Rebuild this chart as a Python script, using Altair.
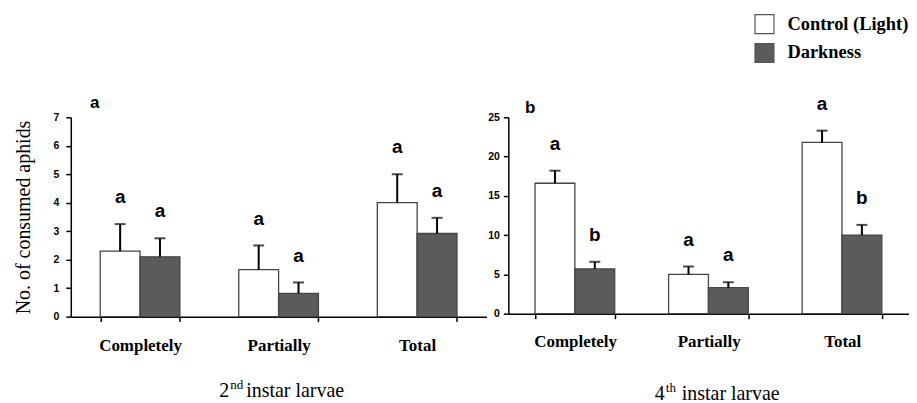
import altair as alt
import pandas as pd

categories = ["Completely", "Partially", "Total"]
treatments = ["Control (Light)", "Darkness"]

# Panel a: 2nd instar larvae
a_ctrl_mean = [2.3, 1.65, 4.0]
a_ctrl_upper = [3.25, 2.5, 5.0]
a_dark_mean = [2.1, 0.82, 2.92]
a_dark_upper = [2.75, 1.2, 3.47]
a_ctrl_letters = ["a", "a", "a"]
a_dark_letters = ["a", "a", "a"]
a_ticks = [0, 1, 2, 3, 4, 5, 6, 7]

# Panel b: 4th instar larvae
b_ctrl_mean = [16.6, 5.0, 21.8]
b_ctrl_upper = [18.2, 6.0, 23.3]
b_dark_mean = [5.7, 3.3, 10.0]
b_dark_upper = [6.6, 4.0, 11.3]
b_ctrl_letters = ["a", "a", "a"]
b_dark_letters = ["b", "a", "b"]
b_ticks = [0, 5, 10, 15, 20, 25]

SERIF = "Liberation Serif"
SANS = "Liberation Sans"
DARK = "#5b5b5b"


def make_df(cm, cu, cl, dm, du, dl):
    rows = []
    for i, c in enumerate(categories):
        rows.append({"category": c, "treatment": treatments[0], "mean": cm[i], "upper": cu[i], "letter": cl[i]})
        rows.append({"category": c, "treatment": treatments[1], "mean": dm[i], "upper": du[i], "letter": dl[i]})
    return pd.DataFrame(rows)


def text_layer(txt, x, y, size, weight="normal", font=SERIF, align="left", opacity=1.0):
    return alt.Chart(pd.DataFrame({"t": [txt]})).mark_text(
        font=font, fontSize=size, fontWeight=weight, align=align,
        baseline="alphabetic", color="black", opacity=opacity
    ).encode(x=alt.value(x), y=alt.value(y), text="t:N")


def legend_layers(opacity):
    layers = []
    fills = ["white", DARK]
    ys = [-93.5, -64.5]
    for i, t in enumerate(treatments):
        layers.append(
            alt.Chart(pd.DataFrame({"t": [t]})).mark_square(
                size=361, fill=fills[i], stroke="#555555", strokeWidth=1.2, opacity=opacity
            ).encode(x=alt.value(257), y=alt.value(ys[i]))
        )
        layers.append(text_layer(t, 280, ys[i] + 5.5, 18.5, "bold", SERIF, "left", opacity))
    return layers


def panel(df, ymax, ticks, width, height, pad_inner, ytitle, label_pad, x_label_pad,
          letter, letter_xy, t_main, t_sup, t_rest, t_x, t_y, legend_opacity):
    axis_kwargs = dict(
        values=ticks, grid=False, labelFont=SANS, labelFontWeight="bold",
        labelFontSize=10.5, labelColor="black", labelPadding=label_pad,
        tickSize=5, tickColor="black", tickWidth=1.5,
        domainColor="black", domainWidth=1.5,
    )
    if ytitle:
        axis_kwargs.update(title=ytitle, titleFont=SERIF, titleFontSize=20,
                           titleFontWeight="normal", titleColor="black", titlePadding=20)
    else:
        axis_kwargs.update(title=None)
    yax = alt.Axis(**axis_kwargs)
    yscale = alt.Scale(domain=[0, ymax], nice=False)

    x = alt.X("category:N", sort=categories,
              scale=alt.Scale(paddingInner=pad_inner, paddingOuter=pad_inner / 2),
              axis=alt.Axis(title=None, labelAngle=0, labelFont=SERIF, labelFontWeight="bold",
                            labelFontSize=17, labelColor="black", labelPadding=x_label_pad,
                            tickBand="extent", tickSize=5, tickColor="black", tickWidth=1.5,
                            domainColor="black", domainWidth=1.5))
    xo = alt.XOffset("treatment:N", sort=treatments,
                     scale=alt.Scale(paddingInner=0, paddingOuter=0))

    base = alt.Chart(df)
    bars = base.mark_bar(strokeWidth=1.3).encode(
        x=x, xOffset=xo,
        y=alt.Y("mean:Q", scale=yscale, axis=yax),
        fill=alt.Fill("treatment:N", scale=alt.Scale(domain=treatments, range=["white", DARK]), legend=None),
        stroke=alt.Stroke("treatment:N", scale=alt.Scale(domain=treatments, range=["#444444", "#444444"]), legend=None),
    )
    rule = base.mark_rule(color="black", strokeWidth=2).encode(
        x=x, xOffset=xo,
        y=alt.Y("mean:Q", scale=yscale, axis=yax), y2="upper:Q",
    )
    cap = base.mark_tick(color="black", thickness=2, size=11, orient="horizontal").encode(
        x=x, xOffset=xo, y=alt.Y("upper:Q", scale=yscale, axis=yax),
    )
    letters = base.mark_text(font=SANS, fontWeight="bold", fontSize=19,
                             baseline="alphabetic", dy=-21, color="black").encode(
        x=x, xOffset=xo, y=alt.Y("upper:Q", scale=yscale, axis=yax), text="letter:N",
    )
    plabel = text_layer(letter, letter_xy[0], letter_xy[1], 17, "bold", SANS, "center")
    title1 = text_layer(t_main, t_x - 1, t_y, 20, "normal", SERIF, "right")
    title2 = text_layer(t_sup, t_x, t_y - 8, 13, "normal", SERIF, "left")
    title3 = text_layer(t_rest, t_x + 16, t_y, 20, "normal", SERIF, "left")

    layers = [bars, rule, cap, letters, plabel, title1, title2, title3] + legend_layers(legend_opacity)
    return alt.layer(*layers).properties(width=width, height=height)


df_a = make_df(a_ctrl_mean, a_ctrl_upper, a_ctrl_letters, a_dark_mean, a_dark_upper, a_dark_letters)
df_b = make_df(b_ctrl_mean, b_ctrl_upper, b_ctrl_letters, b_dark_mean, b_dark_upper, b_dark_letters)

left = panel(df_a, 7, a_ticks, 417, 200, 0.425, "No. of consumed aphids", 7, 16,
             "a", (24, -9), "2", "nd", "instar larvae", 160, 281, 0.0)
right = panel(df_b, 25, b_ticks, 402, 197, 0.4, None, 4, 15,
              "b", (22, -4), "4", "th", "instar larvae", 158, 284, 1.0)

chart = alt.hconcat(left, right, spacing=1).properties(
    padding={"left": 5, "top": 3, "right": 0, "bottom": 0}
).configure_view(stroke=None)

chart.save("out.html", embed_options={"renderer": "svg", "actions": False})
